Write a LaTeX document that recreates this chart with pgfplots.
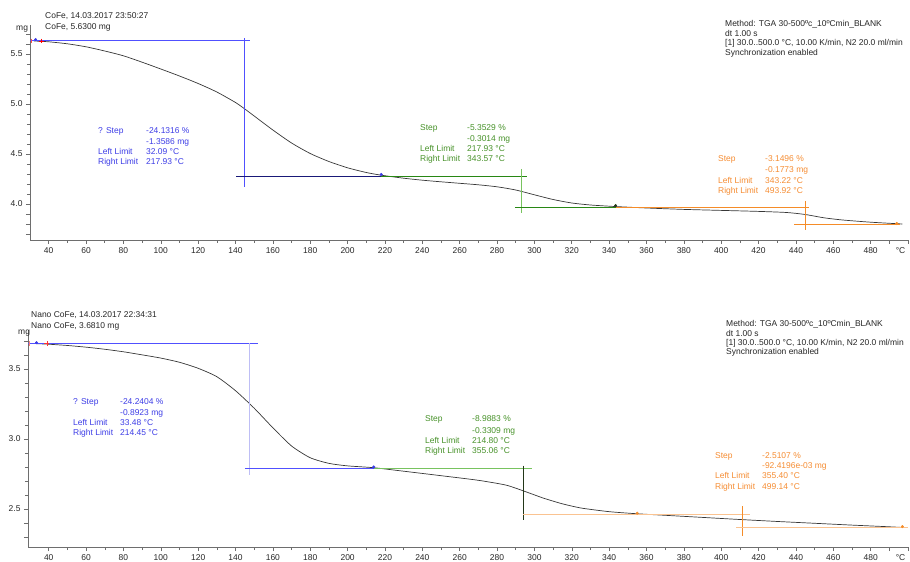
\documentclass[border=0pt]{standalone}
\usepackage{fontspec}
\setmainfont{Liberation Sans}
\usepackage{pgfplots}
\pgfplotsset{compat=1.18}
\definecolor{bT}{RGB}{60,60,230}
\definecolor{bL}{RGB}{80,80,255}
\definecolor{bLight}{RGB}{190,190,245}
\definecolor{navyline}{RGB}{25,25,120}
\definecolor{gT}{RGB}{70,145,40}
\definecolor{gL}{RGB}{40,135,20}
\definecolor{gLight}{RGB}{120,195,95}
\definecolor{gDark}{RGB}{35,55,25}
\definecolor{oT}{RGB}{245,140,50}
\definecolor{oL}{RGB}{245,140,40}
\definecolor{oLight}{RGB}{250,195,145}
\definecolor{crv}{RGB}{55,55,55}
\definecolor{axc}{RGB}{110,110,110}
\newcommand{\fs}{\fontsize{8.5}{10}\selectfont}
\pgfplotsset{tgastyle/.style={
  scale only axis, anchor=south west,
  axis x line*=bottom, axis y line*=left,
  axis line style={axc,-,line width=0.6bp},
  xtick={40,60,...,480}, minor x tick num=1,
  extra x ticks={490,500}, extra x tick labels={},
  tick align=outside, major tick length=4bp, minor tick length=3bp,
  tick style={axc,line width=0.5bp},
  ticklabel style={font=\fs, text=black!85},
  /pgf/number format/assume math mode=true,
  yticklabel style={/pgf/number format/.cd, fixed, fixed zerofill, precision=1},
  clip=false,
}}
\begin{document}
\begin{tikzpicture}
\useasboundingbox (0,0) rectangle (910bp,562bp);
% ---------------- top chart ----------------
\begin{axis}[tgastyle,
  at={(30bp,322bp)}, width=878bp, height=215bp,
  xmin=30, xmax=500, ymin=3.64, ymax=5.79,
  ytick={4.0,4.5,5.0,5.5}, minor y tick num=4,
  extra y ticks={3.7,3.8,3.9,5.6,5.7}, extra y tick labels={},
]
\addplot[draw=crv, line width=0.7bp, smooth, tension=0.4] coordinates {
(32.09,5.630) (40,5.622) (50,5.602) (60,5.572) (70,5.530) (80,5.482) (90,5.418)
(100,5.350) (110,5.280) (120,5.205) (130,5.120) (140,5.015) (145,4.950) (150,4.880)
(160,4.740) (170,4.610) (180,4.505) (190,4.425) (200,4.362) (210,4.315) (218,4.288)
(230,4.258) (240,4.238) (250,4.222) (260,4.207) (270,4.192) (280,4.172) (290,4.140)
(300,4.092) (310,4.045) (320,4.010) (330,3.990) (343,3.975) (360,3.960) (380,3.946)
(400,3.936) (420,3.926) (435,3.915) (445,3.895) (455,3.862) (465,3.840) (480,3.818) (497,3.800)};
\addplot[draw=bL, line width=1bp] coordinates {(30,5.63) (148,5.63)};
\addplot[draw=bL, line width=1bp] coordinates {(145,5.655) (145,4.17)};
\addplot[draw=navyline, line width=1bp] coordinates {(140.5,4.2714) (218,4.2714)};
\addplot[draw=gL, line width=1bp] coordinates {(218,4.2714) (296,4.2714)};
\addplot[draw=gLight, line width=1bp] coordinates {(293,4.35) (293,3.91)};
\addplot[draw=gL, line width=1bp] coordinates {(289.5,3.965) (343.5,3.965)};
\addplot[draw=oL, line width=1bp] coordinates {(343.5,3.965) (447,3.965)};
\addplot[draw=oL, line width=1bp] coordinates {(445,4.03) (445,3.74)};
\addplot[draw=oL, line width=1bp] coordinates {(439,3.793) (495.5,3.793)};
\addplot[only marks, mark=|, mark size=2.5, draw=red!70] coordinates {(30.8,5.63)};
\addplot[only marks, mark=+, mark size=2.5, draw=red] coordinates {(36,5.63)};
\addplot[only marks, mark=*, mark size=1.3, draw=bT, fill=bT] coordinates {(33,5.645) (218,4.295)};
\addplot[only marks, mark=*, mark size=1.3, draw=gDark, fill=gDark] coordinates {(343.5,3.985)};
\addplot[only marks, mark=*, mark size=1.3, draw=oL, fill=oL] coordinates {(494,3.805)};
\node[anchor=north, font=\fs, text=black!85, inner sep=0.333em, yshift=-4bp] at (rel axis cs:0.9915,0) {°C};
\end{axis}
% ---------------- bottom chart ----------------
\begin{axis}[tgastyle,
  at={(28bp,15bp)}, width=880bp, height=217bp,
  xmin=28.9, xmax=500, ymin=2.2286, ymax=3.7786,
  ytick={2.5,3.0,3.5}, minor y tick num=4,
  extra y ticks={2.3,2.4,3.6,3.7}, extra y tick labels={},
]
\addplot[draw=crv, line width=0.7bp, smooth, tension=0.4] coordinates {
(33.48,3.681) (40,3.677) (50,3.668) (60,3.656) (70,3.641) (80,3.623) (90,3.601)
(100,3.578) (110,3.548) (120,3.505) (130,3.445) (140,3.345) (150,3.220) (160,3.080)
(170,2.950) (180,2.866) (190,2.826) (200,2.808) (214,2.795) (230,2.770) (250,2.738)
(270,2.705) (285,2.670) (295,2.625) (305,2.577) (315,2.537) (325,2.507) (340,2.481)
(355,2.466) (370,2.455) (390,2.440) (410,2.425) (430,2.411) (450,2.398) (470,2.385)
(490,2.373) (497,2.368)};
\addplot[draw=bL, line width=1bp] coordinates {(28.9,3.684) (152,3.684)};
\addplot[draw=bLight, line width=1bp] coordinates {(147.6,3.684) (147.6,2.74)};
\addplot[draw=bL, line width=1bp] coordinates {(145,2.789) (214,2.789)};
\addplot[draw=gLight, line width=1bp] coordinates {(214,2.789) (298.6,2.789)};
\addplot[draw=gDark, line width=1bp] coordinates {(294,2.81) (294,2.42)};
\addplot[draw=oLight, line width=1bp] coordinates {(294,2.458) (415.3,2.458)};
\addplot[draw=oL, line width=1bp] coordinates {(411.5,2.52) (411.5,2.31)};
\addplot[draw=oLight, line width=1bp] coordinates {(408,2.366) (500,2.366)};
\addplot[only marks, mark=|, mark size=2.5, draw=red!50] coordinates {(29.8,3.681)};
\addplot[only marks, mark=+, mark size=2.5, draw=red!80] coordinates {(39,3.681)};
\addplot[only marks, mark=*, mark size=1.3, draw=bT, fill=bT] coordinates {(33.5,3.688) (214,2.800)};
\addplot[only marks, mark=*, mark size=1.3, draw=oL, fill=oL] coordinates {(355,2.470) (497,2.374)};
\node[anchor=north, font=\fs, text=black!85, inner sep=0.333em, yshift=-4bp] at (rel axis cs:0.9915,0) {°C};
\end{axis}
% ---------------- texts (pixel coordinates) ----------------
\begin{scope}[x=1bp,y=-1bp,shift={(0,562bp)}, every node/.style={anchor=base west, inner sep=0, font=\fs}]
\node[text=black!85] at (16,31) {mg};
\node[text=black!85] at (18,335) {mg};
\node[text=black!85] at (45,19) {CoFe, 14.03.2017 23:50:27};
\node[text=black!85] at (45,30) {CoFe, 5.6300 mg};
\node[text=black!85] at (725,27) {Method: TGA 30-500ºc\_10ºCmin\_BLANK};
\node[text=black!85] at (725,37) {dt 1.00 s};
\node[text=black!85] at (725,46) {[1] 30.0..500.0 °C, 10.00 K/min, N2 20.0 ml/min};
\node[text=black!85] at (725,56) {Synchronization enabled};
% top blue
\node[text=bT] at (98,134) {? Step};
\node[text=bT] at (146,134) {-24.1316 \%};
\node[text=bT] at (146,145) {-1.3586 mg};
\node[text=bT] at (98,155) {Left Limit};
\node[text=bT] at (146,155) {32.09 °C};
\node[text=bT] at (98,165) {Right Limit};
\node[text=bT] at (146,165) {217.93 °C};
% top green
\node[text=gT] at (420,131) {Step};
\node[text=gT] at (467,131) {-5.3529 \%};
\node[text=gT] at (467,142) {-0.3014 mg};
\node[text=gT] at (420,152) {Left Limit};
\node[text=gT] at (467,152) {217.93 °C};
\node[text=gT] at (420,162) {Right Limit};
\node[text=gT] at (467,162) {343.57 °C};
% top orange
\node[text=oT] at (718,162) {Step};
\node[text=oT] at (765,162) {-3.1496 \%};
\node[text=oT] at (765,173) {-0.1773 mg};
\node[text=oT] at (718,184) {Left Limit};
\node[text=oT] at (765,184) {343.22 °C};
\node[text=oT] at (718,194) {Right Limit};
\node[text=oT] at (765,194) {493.92 °C};
% bottom header
\node[text=black!85] at (31,318) {Nano CoFe, 14.03.2017 22:34:31};
\node[text=black!85] at (31,329) {Nano CoFe, 3.6810 mg};
\node[text=black!85] at (726,327) {Method: TGA 30-500ºc\_10ºCmin\_BLANK};
\node[text=black!85] at (726,337) {dt 1.00 s};
\node[text=black!85] at (726,346) {[1] 30.0..500.0 °C, 10.00 K/min, N2 20.0 ml/min};
\node[text=black!85] at (726,355) {Synchronization enabled};
% bottom blue
\node[text=bT] at (73,405) {? Step};
\node[text=bT] at (120,405) {-24.2404 \%};
\node[text=bT] at (120,416) {-0.8923 mg};
\node[text=bT] at (73,426) {Left Limit};
\node[text=bT] at (120,426) {33.48 °C};
\node[text=bT] at (73,436) {Right Limit};
\node[text=bT] at (120,436) {214.45 °C};
% bottom green
\node[text=gT] at (425,422) {Step};
\node[text=gT] at (472,422) {-8.9883 \%};
\node[text=gT] at (472,434) {-0.3309 mg};
\node[text=gT] at (425,444) {Left Limit};
\node[text=gT] at (472,444) {214.80 °C};
\node[text=gT] at (425,454) {Right Limit};
\node[text=gT] at (472,454) {355.06 °C};
% bottom orange
\node[text=oT] at (715,459) {Step};
\node[text=oT] at (762,459) {-2.5107 \%};
\node[text=oT] at (762,469) {-92.4196e-03 mg};
\node[text=oT] at (715,479) {Left Limit};
\node[text=oT] at (762,479) {355.40 °C};
\node[text=oT] at (715,490) {Right Limit};
\node[text=oT] at (762,490) {499.14 °C};
\end{scope}
\end{tikzpicture}
\end{document}
